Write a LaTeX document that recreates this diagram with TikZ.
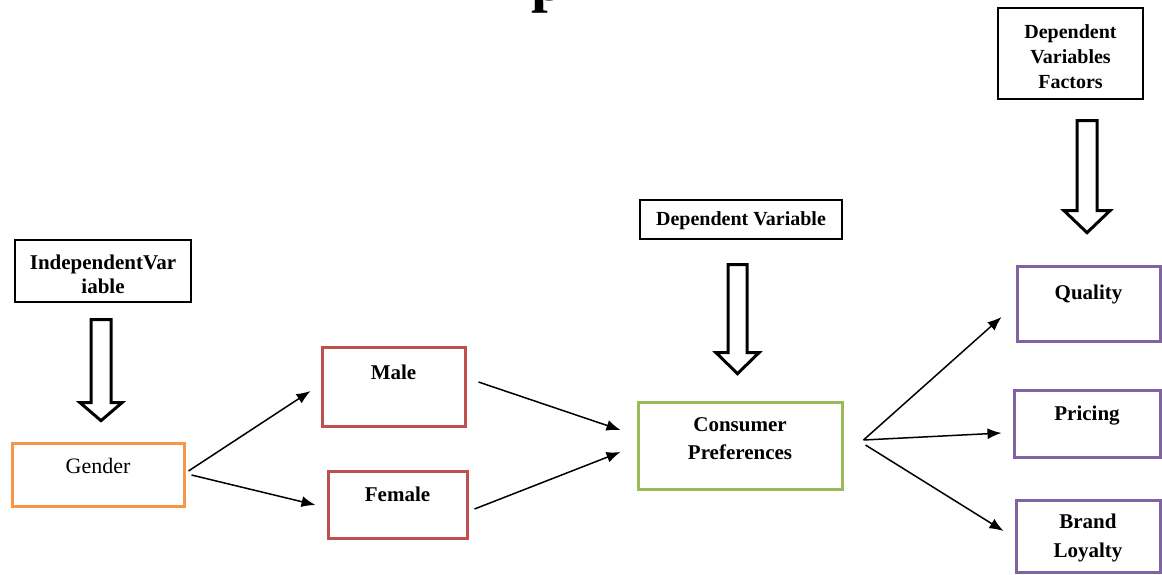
\documentclass[tikz,border=0pt]{standalone}
\usepackage{fontspec}
\setmainfont{Liberation Serif}
\usetikzlibrary{arrows.meta}
\newcommand{\boxlines}[1]{\begin{tabular}[t]{@{}c@{}}#1\end{tabular}}
\begin{document}
\begin{tikzpicture}[x=1pt, y=-1pt,
    txt/.style={font=\bfseries\fontsize{21}{28}\selectfont},
    plainbox/.style={draw=black, line width=1.3pt, inner sep=0pt, txt},
    colbox/.style={draw=#1, line width=3pt, inner sep=0pt, txt},
    conn/.style={-{Latex[length=14pt,width=11pt]}, line width=1.5pt},
    hollow/.style={draw=black, fill=white, line width=3pt, line join=miter}]
    \definecolor{myorange}{RGB}{247,150,70}
    \definecolor{myred}{RGB}{192,80,77}
    \definecolor{mygreen}{RGB}{155,187,89}
    \definecolor{mypurple}{RGB}{128,100,162}

    \useasboundingbox (0,0) rectangle (1162,574);

    % cut-off title
    \node[font=\bfseries\fontsize{60}{60}\selectfont, anchor=base, inner sep=0pt] (title) at (548,0.5) {p};

    % independent side
    \node[plainbox, minimum width=176, text height=29.5, text depth=32.5, font=\bfseries\fontsize{21}{24}\selectfont] (iv) at (103,271) {\boxlines{IndependentVar\\iable}};
    \node[colbox=myorange, minimum width=172, text height=30, text depth=33, font=\fontsize{22}{26}\selectfont] (gender) at (98,474.5) {Gender};
    \node[colbox=myred, minimum width=143, text height=32.5, text depth=46.5] (male) at (393.5,386.5) {Male};
    \node[colbox=myred, minimum width=139, text height=30.5, text depth=36.5] (female) at (397.5,504.5) {Female};

    % dependent variable
    \node[plainbox, minimum width=202, text height=25.5, text depth=13.5, font=\bfseries\fontsize{20}{24}\selectfont] (dv) at (741,219.5) {Dependent Variable};
    \node[colbox=mygreen, minimum width=204, text height=29.5, text depth=57.5] (cp) at (740,445.5) {\boxlines{Consumer\\Preferences}};

    % factors
    \node[plainbox, minimum width=145, text height=30.5, text depth=60.5, font=\bfseries\fontsize{20}{25}\selectfont] (dvf) at (1070.5,53.5) {\boxlines{Dependent\\Variables\\Factors}};
    \node[colbox=mypurple, minimum width=143, text height=33, text depth=42] (quality) at (1088.5,303.5) {Quality};
    \node[colbox=mypurple, minimum width=146, text height=30, text depth=37] (pricing) at (1087,423.5) {Pricing};
    \node[colbox=mypurple, minimum width=144, text height=28.5, text depth=43.5, font=\bfseries\fontsize{21}{29}\selectfont] (brand) at (1088,536) {\boxlines{Brand\\Loyalty}};

    % hollow arrows
    \draw[hollow] ([shift={(-12,17)}]iv.south) -- ++(20,0) -- ++(0,83) -- ++(11,0) -- ++(-21,18) -- ++(-21,-18) -- ++(11,0) -- cycle;
    \draw[hollow] ([shift={(-13,25)}]dv.south) -- ++(19,0) -- ++(0,88) -- ++(12,0) -- ++(-21.5,21) -- ++(-21.5,-21) -- ++(12,0) -- cycle;
    \draw[hollow] ([shift={(6.5,21)}]dvf.south) -- ++(20,0) -- ++(0,90) -- ++(13,0) -- ++(-23,22) -- ++(-23,-22) -- ++(13,0) -- cycle;

    % connectors
    \draw[conn] ([shift={(3,-3.5)}]gender.east) -- ([shift={(-10,4.5)}]male.west);
    \draw[conn] ([shift={(6,0.5)}]gender.east) -- ([shift={(-11,0.5)}]female.west);
    \draw[conn] ([shift={(12,-4.5)}]male.east) -- ([shift={(-16,-15.5)}]cp.west);
    \draw[conn] ([shift={(6,4.5)}]female.east) -- ([shift={(-16,6.5)}]cp.west);
    \draw[conn] ([shift={(20,-5.5)}]cp.east) -- ([shift={(-14,13.5)}]quality.west);
    \draw[conn] ([shift={(20,-5.5)}]cp.east) -- ([shift={(-11,9.5)}]pricing.west);
    \draw[conn] ([shift={(22,-0.5)}]cp.east) -- ([shift={(-11,-5)}]brand.west);
\end{tikzpicture}
\end{document}
